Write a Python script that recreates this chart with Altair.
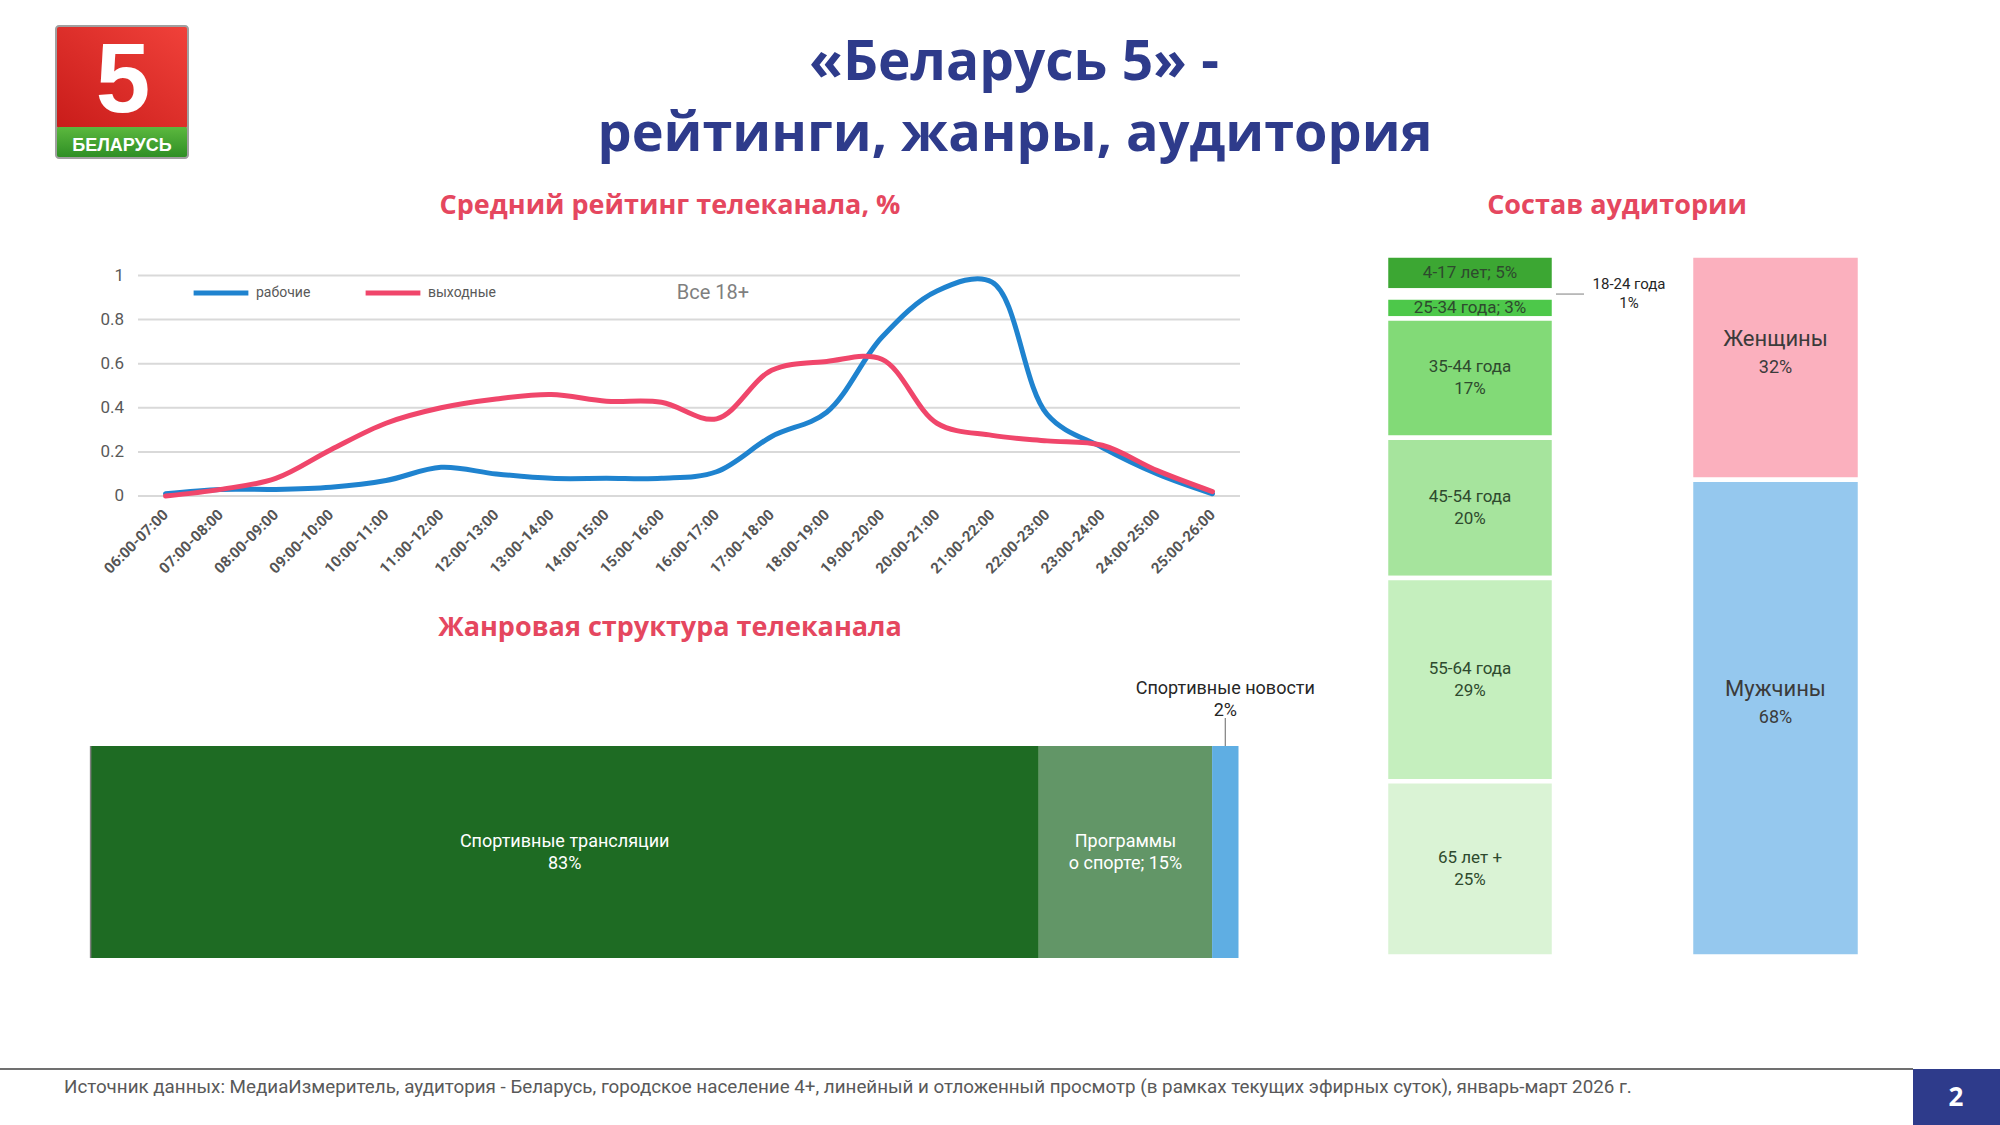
import altair as alt
import pandas as pd

# ---------------- data ----------------
hours = ["06:00-07:00", "07:00-08:00", "08:00-09:00", "09:00-10:00", "10:00-11:00",
         "11:00-12:00", "12:00-13:00", "13:00-14:00", "14:00-15:00", "15:00-16:00",
         "16:00-17:00", "17:00-18:00", "18:00-19:00", "19:00-20:00", "20:00-21:00",
         "21:00-22:00", "22:00-23:00", "23:00-24:00", "24:00-25:00", "25:00-26:00"]
weekday_rating = [0.01, 0.03, 0.03, 0.04, 0.07, 0.13, 0.10, 0.08, 0.08, 0.08,
                  0.11, 0.27, 0.38, 0.72, 0.93, 0.97, 0.37, 0.22, 0.10, 0.01]
weekend_rating = [0.00, 0.03, 0.08, 0.21, 0.33, 0.40, 0.44, 0.46, 0.43, 0.425,
                  0.35, 0.57, 0.61, 0.62, 0.33, 0.275, 0.25, 0.23, 0.115, 0.02]
series_names = ["рабочие", "выходные"]
series_colors = ["#1F83CF", "#F0466B"]
y_ticks = [0, 0.2, 0.4, 0.6, 0.8, 1.0]
y_tick_labels = ["0", "0.2", "0.4", "0.6", "0.8", "1"]

genre_names = ["Спортивные трансляции", "Программы о спорте", "Спортивные новости"]
genre_share = [82.6, 15.1, 2.3]
genre_labels = ["Спортивные трансляции\n83%", "Программы\nо спорте; 15%", "Спортивные новости\n2%"]
genre_colors = ["#1E6B23", "#629667", "#5FAEE3"]

age_groups = ["4-17 лет", "18-24 года", "25-34 года", "35-44 года", "45-54 года", "55-64 года", "65 лет +"]
age_share = [5, 1, 3, 17, 20, 29, 25]
age_label_sep = ["; ", "\n", "; ", "\n", "\n", "\n", "\n"]
age_colors = ["#3CA733", "#FFFFFF", "#4DC84A", "#82DA77", "#A6E49D", "#C5EFBE", "#DAF3D5"]

gender_names = ["Женщины", "Мужчины"]
gender_share = [32, 68]
gender_colors = ["#FBB0BE", "#95C8EE"]

FONT = "Roboto"
TITLE_FONT = "Open Sans"
NAVY = "#2E3B8B"
RED_T = "#E5475F"


def txt(s, x, y, size, color, weight="normal", font=FONT, align="center", baseline="alphabetic"):
    return alt.Chart(pd.DataFrame({"t": [s]})).mark_text(
        font=font, fontSize=size, color=color, fontWeight=weight, align=align, baseline=baseline
    ).encode(x=alt.value(x), y=alt.value(y), text="t:N")


def box(x1, x2, y1, y2, color, **kw):
    return alt.Chart(pd.DataFrame({"a": [0]})).mark_rect(color=color, **kw).encode(
        x=alt.value(x1), x2=alt.value(x2), y=alt.value(y1), y2=alt.value(y2))


# ---------------- line chart ----------------
line_df = pd.DataFrame({
    "hour": hours * 2,
    "i": list(range(len(hours))) * 2,
    "series": [series_names[0]] * len(hours) + [series_names[1]] * len(hours),
    "value": weekday_rating + weekend_rating,
})
XL = alt.Scale(type="point", domain=hours, range=[138, 1240], padding=0.5)
YL = alt.Scale(type="linear", domain=[0, 1], range=[496, 275.5], nice=False, zero=False)
grid_df = pd.DataFrame({"tick": y_ticks, "label": y_tick_labels})

grid = alt.Chart(grid_df).mark_rule(color="#D9D9D9", strokeWidth=2).encode(
    y=alt.Y("tick:Q", scale=YL, axis=None), x=alt.value(138), x2=alt.value(1240))
ylab = alt.Chart(grid_df).mark_text(align="right", baseline="middle", font=FONT, fontSize=17,
                                    color="#595959").encode(
    y=alt.Y("tick:Q", scale=YL, axis=None), x=alt.value(124), text="label:N")
xlab = alt.Chart(pd.DataFrame({"hour": hours})).mark_text(
    angle=315, align="right", baseline="middle", font=FONT, fontSize=15, fontWeight="bold",
    color="#555555").encode(x=alt.X("hour:N", scale=XL, axis=None), y=alt.value(512), text="hour:N")
lines = alt.Chart(line_df).mark_line(interpolate="catmull-rom", strokeWidth=5, strokeCap="round").encode(
    x=alt.X("hour:N", scale=XL, axis=None),
    y=alt.Y("value:Q", scale=YL, axis=None),
    color=alt.Color("series:N", scale=alt.Scale(domain=series_names, range=series_colors),
                    legend=alt.Legend(title=None, orient="none", legendX=191, legendY=263,
                                      direction="horizontal", symbolType="stroke", symbolSize=3000,
                                      symbolStrokeWidth=5, labelFont=FONT, labelFontSize=14,
                                      labelColor="#595959", labelOffset=5, columnPadding=44,
                                      padding=0)),
    order=alt.Order("i:Q"),
)
allplus = txt("Все 18+", 713, 299, 20, "#7F7F7F")
line_chart = alt.layer(grid, lines, xlab, ylab, allplus)

# ---------------- genre bar ----------------
genre_df = pd.DataFrame({"name": genre_names, "share": genre_share, "label": genre_labels,
                         "color": genre_colors, "idx": list(range(len(genre_names))), "row": "g"})
XG = alt.Scale(domain=[0, 100], range=[90.6, 1238.5], nice=False, zero=False)
YG = alt.Scale(domain=["g"], range=[746, 958], paddingInner=0, paddingOuter=0)
gbase = alt.Chart(genre_df).transform_window(
    cum="sum(share)", sort=[alt.SortField("idx")], frame=[None, 0]
).transform_calculate(start="datum.cum - datum.share", mid="datum.cum - datum.share / 2")
gbars = gbase.mark_bar().encode(
    x=alt.X("start:Q", scale=XG, axis=None), x2="cum:Q",
    y=alt.Y("row:N", scale=YG, axis=None), color=alt.Color("color:N", scale=None))
gin = gbase.transform_filter("datum.idx < 2").mark_text(
    lineBreak="\n", color="white", font=FONT, fontSize=18, lineHeight=22, dy=-10).encode(
    x=alt.X("mid:Q", scale=XG, axis=None), y=alt.Y("row:N", scale=YG, axis=None), text="label:N")
gout = gbase.transform_filter("datum.idx == 2").mark_text(
    lineBreak="\n", color="#262626", font=FONT, fontSize=18, lineHeight=22).encode(
    x=alt.X("mid:Q", scale=XG, axis=None), y=alt.value(689), text="label:N")
glead = gbase.transform_filter("datum.idx == 2").mark_rule(color="#7F7F7F", strokeWidth=1.2).encode(
    x=alt.X("mid:Q", scale=XG, axis=None), y=alt.value(718), y2=alt.value(746))
gedge = gbase.transform_filter("datum.idx == 0").mark_rule(color="#7F7F7F", strokeWidth=1.5).encode(
    x=alt.X("start:Q", scale=XG, axis=None), y=alt.value(746), y2=alt.value(958))
genre_chart = alt.layer(gbars, gin, gout, glead, gedge)

# ---------------- age bar ----------------
age_labels = [f"{n}{s}{v}%" for n, s, v in zip(age_groups, age_label_sep, age_share)]
age_df = pd.DataFrame({
    "name": age_groups, "share": age_share, "color": age_colors,
    "label": age_labels, "nlines": [lab.count("\n") + 1 for lab in age_labels],
    "idx": list(range(len(age_groups))), "bar": "age"})
YA = alt.Scale(domain=[0, 100], range=[255.5, 956.5], nice=False, zero=False)
XA = alt.Scale(domain=["age"], range=[1386, 1554], paddingInner=0, paddingOuter=0)
abase = alt.Chart(age_df).transform_window(
    cum="sum(share)", sort=[alt.SortField("idx")], frame=[None, 0]
).transform_calculate(start="datum.cum - datum.share", mid="datum.cum - datum.share / 2")
abars = abase.mark_bar(stroke="white", strokeWidth=4.5).encode(
    y=alt.Y("start:Q", scale=YA, axis=None), y2="cum:Q",
    x=alt.X("bar:N", scale=XA, axis=None), color=alt.Color("color:N", scale=None))
ain1 = abase.transform_filter("datum.idx != 1 && datum.nlines == 1").mark_text(
    color="#2E4A2E", font=FONT, fontSize=17).encode(
    y=alt.Y("mid:Q", scale=YA, axis=None), x=alt.X("bar:N", scale=XA, axis=None), text="label:N")
ain2 = abase.transform_filter("datum.idx != 1 && datum.nlines == 2").mark_text(
    lineBreak="\n", color="#2E4A2E", font=FONT, fontSize=17, lineHeight=22, dy=-11).encode(
    y=alt.Y("mid:Q", scale=YA, axis=None), x=alt.X("bar:N", scale=XA, axis=None), text="label:N")
aout = abase.transform_filter("datum.idx == 1").mark_text(
    lineBreak="\n", color="#262626", font=FONT, fontSize=15, lineHeight=19, dy=-10).encode(
    y=alt.Y("mid:Q", scale=YA, axis=None), x=alt.value(1629), text="label:N")
alead = abase.transform_filter("datum.idx == 1").mark_rule(color="#7F7F7F", strokeWidth=1).encode(
    y=alt.Y("mid:Q", scale=YA, axis=None), x=alt.value(1556), x2=alt.value(1584))
age_chart = alt.layer(abars, ain1, ain2, aout, alead)

# ---------------- gender bar ----------------
gen_df = pd.DataFrame({"name": gender_names, "share": gender_share, "color": gender_colors,
                       "pct": [f"{v}%" for v in gender_share],
                       "idx": list(range(len(gender_names))), "bar": "gender"})
XS = alt.Scale(domain=["gender"], range=[1691, 1860], paddingInner=0, paddingOuter=0)
sbase = alt.Chart(gen_df).transform_window(
    cum="sum(share)", sort=[alt.SortField("idx")], frame=[None, 0]
).transform_calculate(start="datum.cum - datum.share", mid="datum.cum - datum.share / 2")
sbars = sbase.mark_bar(stroke="white", strokeWidth=4.5).encode(
    y=alt.Y("start:Q", scale=YA, axis=None), y2="cum:Q",
    x=alt.X("bar:N", scale=XS, axis=None), color=alt.Color("color:N", scale=None))
sname = sbase.mark_text(color="#3B3B3B", font=FONT, fontSize=22, dy=-29).encode(
    y=alt.Y("mid:Q", scale=YA, axis=None), x=alt.X("bar:N", scale=XS, axis=None), text="name:N")
spct = sbase.mark_text(color="#3B3B3B", font=FONT, fontSize=18).encode(
    y=alt.Y("mid:Q", scale=YA, axis=None), x=alt.X("bar:N", scale=XS, axis=None), text="pct:N")
gender_chart = alt.layer(sbars, sname, spct)

# ---------------- slide decoration ----------------
red_grad = alt.Gradient(gradient="linear", x1=0, y1=1, x2=1, y2=0,
                        stops=[alt.GradientStop(color="#C91C1A", offset=0),
                               alt.GradientStop(color="#F0413A", offset=1)])
green_grad = alt.Gradient(gradient="linear", x1=0, y1=0, x2=0, y2=1,
                          stops=[alt.GradientStop(color="#5CB83E", offset=0),
                                 alt.GradientStop(color="#2F8F25", offset=1)])
logo = [
    box(55, 189, 25, 159, "#A0A0A0", cornerRadius=4),
    box(57, 187, 27, 128, red_grad, cornerRadius=2),
    box(57, 187, 127, 157, green_grad, cornerRadius=2),
    txt("5", 123, 112, 98, "white", weight="bold", font="Liberation Sans"),
    txt("БЕЛАРУСЬ", 122, 151, 18, "white", weight="bold", font="Liberation Sans"),
]
titles = [
    txt("«Беларусь 5» -", 1014, 80, 55, NAVY, weight="bold", font=TITLE_FONT),
    txt("рейтинги, жанры, аудитория", 1015, 151, 54, NAVY, weight="bold", font=TITLE_FONT),
    txt("Средний рейтинг телеканала, %", 670, 214, 27, RED_T, weight="bold", font=TITLE_FONT),
    txt("Состав аудитории", 1617, 214, 27, RED_T, weight="bold", font=TITLE_FONT),
    txt("Жанровая структура телеканала", 670, 636, 27, RED_T, weight="bold", font=TITLE_FONT),
]
footer = [
    alt.Chart(pd.DataFrame({"a": [0]})).mark_rule(color="#404040", strokeWidth=1.5).encode(
        x=alt.value(0), x2=alt.value(1913), y=alt.value(1069)),
    txt("Источник данных: МедиаИзмеритель, аудитория - Беларусь, городское население 4+, "
        "линейный и отложенный просмотр (в рамках текущих эфирных суток), январь-март 2026 г.",
        64, 1093, 18.8, "#595959", align="left"),
    box(1913, 2000, 1069, 1125, NAVY),
    txt("2", 1956, 1106, 26, "white", weight="bold", font=TITLE_FONT),
]

chart = alt.layer(
    line_chart, genre_chart, age_chart, gender_chart, *logo, *titles, *footer
).resolve_scale(
    x="independent", y="independent", color="independent"
).properties(
    width=2000, height=1125, autosize=alt.AutoSizeParams(type="none"), padding=0, background="white"
).configure_view(stroke=None)

chart.save("out.html", embed_options={"renderer": "svg", "actions": False})
